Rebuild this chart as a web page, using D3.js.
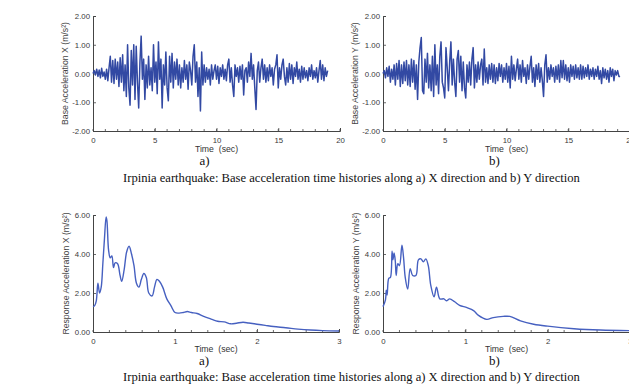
<!DOCTYPE html>
<html><head><meta charset="utf-8">
<script src="https://cdn.jsdelivr.net/npm/d3@7"></script>
<style>
body{margin:0;background:#fff;}
svg{display:block;font-family:Arial, "Liberation Sans", sans-serif;}
</style></head>
<body><svg id="c" width="629" height="387"></svg>
<script>
// ---- data ----
const dtAcc = 0.1;
const accX = [
0.0,0.1,-0.05,0.15,-0.1,0.12,-0.15,0.18,-0.1,0.05,
-0.2,0.15,-0.25,0.2,0.6,-0.3,0.45,-0.35,0.5,-0.2,
0.4,-0.45,0.55,-0.3,0.65,-0.6,0.3,-0.8,1.0,-0.5,
-1.1,0.8,-0.4,1.0,-0.9,0.95,-0.3,-1.2,0.4,1.3,
-0.2,0.5,-0.9,0.3,-0.5,0.6,-0.4,0.2,-0.6,1.0,
-0.3,0.4,-0.7,1.1,-0.2,0.5,-1.2,0.3,-0.4,0.75,
-0.5,-0.95,0.6,-0.3,0.7,-0.5,0.4,-0.2,0.5,-0.4,
0.3,-0.5,0.2,-0.3,0.45,-0.2,0.3,-0.55,0.4,0.1,
-0.4,0.6,1.0,-0.3,0.4,-0.8,0.2,-1.3,0.75,-0.4,
0.3,-0.3,0.2,-0.2,0.15,-0.4,0.3,-0.2,0.1,0.3,
-0.2,0.25,-0.35,0.2,-0.1,0.3,-0.2,0.15,-0.25,0.3,
0.5,-0.3,0.2,-0.4,-0.8,0.3,-0.1,0.2,-0.3,0.25,
-0.2,0.3,-0.75,0.1,0.2,-0.3,0.4,-0.1,0.7,-0.2,
0.3,-0.5,-1.25,0.1,0.4,-0.3,0.2,0.5,-0.2,0.3,
-0.3,0.2,-0.25,0.3,-0.1,0.2,-0.4,0.15,0.3,0.65,
-0.5,0.2,-0.2,0.3,0.5,-0.1,-0.4,0.2,-0.3,0.35,
-0.2,0.3,-0.35,0.2,-0.1,0.4,-0.2,0.15,-0.3,0.25,
-0.2,0.2,-0.15,0.1,-0.25,0.2,-0.1,0.3,-0.2,0.1,
-0.15,0.2,-0.3,0.1,0.45,-0.2,0.3,-0.25,0.2,-0.1,
0.1];
const accY = [
0.0,0.1,-0.15,0.2,-0.1,0.25,-0.3,0.15,-0.2,0.3,
-0.4,0.35,-0.2,0.45,-0.45,0.3,-0.35,0.4,-0.25,0.45,
-0.4,0.3,-0.45,0.5,-0.3,0.45,-0.55,0.3,-0.9,0.4,
0.9,1.25,-0.6,-0.7,0.5,-0.3,0.7,-0.5,0.3,-0.6,
0.6,-0.8,1.0,-0.4,0.3,-0.7,0.6,1.1,-0.3,-0.5,
-0.85,0.9,0.2,-0.6,0.4,1.1,-0.4,0.5,-0.3,-0.8,
0.5,0.8,-0.3,0.6,-0.6,0.4,-0.5,-0.85,0.3,-0.3,
0.4,-0.4,0.5,0.9,-0.5,0.3,-0.3,0.4,-0.2,0.3,
0.5,-0.4,0.85,-0.3,0.2,-0.35,0.3,-0.2,0.35,-0.3,
0.3,-0.35,0.2,-0.25,0.35,-0.1,0.3,-0.3,0.2,-0.2,
0.35,-0.3,0.25,-0.5,0.6,-0.2,0.3,-0.25,0.15,0.5,
-0.2,0.3,-0.3,0.45,-0.1,0.2,-0.35,0.3,-0.2,0.25,
0.6,-0.3,0.2,-0.45,0.3,-0.2,0.35,-0.3,0.2,-0.25,
-0.8,0.3,0.65,-0.3,0.2,-0.2,0.3,-0.1,0.2,-0.3,
0.25,-0.2,0.3,-0.3,0.45,-0.15,0.45,-0.2,0.3,-0.25,
0.2,-0.3,0.3,-0.1,0.25,-0.2,0.3,-0.15,0.2,-0.2,
0.3,-0.2,0.25,-0.15,0.2,-0.1,0.3,-0.2,0.15,-0.1,
0.2,-0.2,0.15,-0.1,0.25,-0.2,0.1,-0.35,0.2,-0.15,
0.15,-0.2,0.1,-0.3,0.2,-0.1,0.15,-0.25,0.1,-0.05,
0.1,-0.1,-0.1];
const specXT = [0,0.02,0.04,0.06,0.08,0.1,0.12,0.14,0.16,0.17,0.19,0.21,0.23,0.25,0.27,0.3,0.33,0.35,0.38,0.41,0.44,0.47,0.5,0.53,0.56,0.59,0.62,0.65,0.68,0.72,0.75,0.78,0.81,0.85,0.9,0.95,1.0,1.05,1.1,1.15,1.2,1.27,1.35,1.45,1.52,1.6,1.68,1.75,1.83,1.9,2.0,2.1,2.2,2.35,2.5,2.65,2.8,3.0];
const specXV = [1.3,1.35,1.6,2.5,2.0,2.3,3.5,4.8,5.9,5.7,4.2,3.8,3.9,3.3,3.55,3.5,2.9,2.6,3.2,4.1,4.4,4.0,3.4,2.5,2.3,2.7,3.0,2.8,2.0,1.85,2.3,2.7,2.6,2.3,1.7,1.35,1.0,0.97,1.0,1.05,1.0,0.95,0.8,0.65,0.55,0.52,0.42,0.45,0.5,0.46,0.4,0.34,0.28,0.22,0.15,0.1,0.07,0.05];
const specYT = [0,0.03,0.04,0.05,0.07,0.09,0.11,0.12,0.135,0.15,0.16,0.18,0.2,0.23,0.25,0.27,0.3,0.33,0.36,0.4,0.43,0.46,0.49,0.52,0.55,0.58,0.62,0.65,0.69,0.74,0.77,0.81,0.87,0.93,1.02,1.1,1.16,1.26,1.34,1.46,1.54,1.67,1.83,2.0,2.32,2.64,3.0];
const specYV = [1.3,1.65,2.15,1.9,2.75,2.8,4.15,3.7,4.05,3.6,2.9,3.5,3.4,4.45,3.8,2.8,2.2,3.25,2.9,2.9,3.7,3.75,3.6,3.75,3.4,2.4,1.8,2.3,1.7,1.7,1.6,1.7,1.55,1.37,1.25,1.1,0.85,0.65,0.74,0.8,0.8,0.57,0.4,0.3,0.17,0.1,0.07];
const accTicks = [-2,-1,0,1,2];
const accTimeTicks = [0,5,10,15,20];
const specTicks = [0,2,4,6];
const specTimeTicks = [0,1,2,3];
const caption = "Irpinia earthquake: Base acceleration time histories along a) X direction and b) Y direction";

// ---- drawing ----
const svg = d3.select("#c");
const fmt = v => v.toFixed(2);

function panel(o){
  const g = svg.append("g");
  const x = d3.scaleLinear().domain(o.xd).range([o.x0, o.x1]);
  const y = d3.scaleLinear().domain(o.yd).range([o.y1, o.y0]);
  const minor = d3.range(o.xd[0], o.xd[1] + 1e-9, o.minorStep);
  g.selectAll(".mx").data(minor).join("line")
    .attr("x1", d=>x(d)).attr("x2", d=>x(d))
    .attr("y1", o.y1).attr("y2", o.y1-2)
    .attr("stroke", "#444").attr("stroke-width", 0.8);
  const xa = d3.axisBottom(x).tickValues(o.xTicks).tickSize(-3).tickPadding(6).tickFormat(d3.format("d"));
  const ga = g.append("g").attr("transform", `translate(0,${o.y1})`).call(xa);
  const ya = d3.axisLeft(y).tickValues(o.yTicks).tickSize(-3).tickPadding(3).tickFormat(fmt);
  const gy = g.append("g").attr("transform", `translate(${o.x0},0)`).call(ya);
  [ga, gy].forEach(a=>{
    a.select(".domain").attr("stroke", "#444").attr("stroke-width", 1);
    a.selectAll(".tick line").attr("stroke", "#444").attr("stroke-width", 0.8);
    a.selectAll(".tick text").attr("fill", "#3a3a3a").attr("font-size", 7.8).attr("font-family", "Arial, 'Liberation Sans', sans-serif");
  });
  gy.selectAll(".tick text").attr("dy", "0.32em");
  const line = d3.line().x(d=>x(d[0])).y(d=>y(d[1])).curve(o.curve);
  g.append("path").datum(o.data).attr("d", line)
    .attr("fill", "none").attr("stroke", o.color).attr("stroke-width", o.sw).attr("stroke-linejoin", "round");
  g.append("text").attr("transform", `translate(${o.ylx},${(o.y0+o.y1)/2}) rotate(-90)`)
    .attr("text-anchor", "middle").attr("font-size", 8.7).attr("fill", "#444").text(o.ylabel);
  g.append("text").attr("x", (o.x0+o.x1)/2).attr("y", o.xly).attr("text-anchor", "middle")
    .attr("font-size", 8.7).attr("fill", "#333").attr("xml:space","preserve").text("Time  (sec)");
  g.append("text").attr("x", (o.x0+o.x1)/2 - 12).attr("y", o.xly + 13).attr("text-anchor", "middle")
    .attr("font-size", 13).attr("font-family", "'Liberation Serif', 'Times New Roman', serif").attr("fill", "#111").text(o.tag);
}

const accXData = accX.map((v,i)=>[i*dtAcc, v]);
const accYData = accY.map((v,i)=>[i*dtAcc, v]);
const specXData = specXT.map((t,i)=>[t, specXV[i]]);
const specYData = specYT.map((t,i)=>[t, specYV[i]]);

const topCfg = {xd:[0,20], yd:[-2,2], y0:16, y1:131, xTicks:accTimeTicks, yTicks:accTicks, minorStep:1, curve:d3.curveLinear, color:"#3249a3", sw:1.5, xly:152};
panel(Object.assign({}, topCfg, {x0:93, x1:340, data:accXData, ylabel:"Base Acceleration X (m/s²)", ylx:68, tag:"a)"}));
panel(Object.assign({}, topCfg, {x0:383, x1:630, data:accYData, ylabel:"Base Acceleration Y (m/s²)", ylx:358, tag:"b)"}));
const botCfg = {xd:[0,3], yd:[0,6], y0:215, y1:332, xTicks:specTimeTicks, yTicks:specTicks, minorStep:0.2, curve:d3.curveCatmullRom, color:"#4660c0", sw:1.4, xly:352};
panel(Object.assign({}, botCfg, {x0:93, x1:339, data:specXData, ylabel:"Response Acceleration  X (m/s²)", ylx:69, tag:"a)"}));
panel(Object.assign({}, botCfg, {x0:383, x1:630, data:specYData, ylabel:"Response Acceleration  Y (m/s²)", ylx:359, tag:"b)"}));

[182, 381].forEach(yy=>{
  svg.append("text").attr("x", 123).attr("y", yy).attr("font-size", 12.6)
    .attr("font-family", "'Liberation Serif', 'Times New Roman', serif").attr("fill", "#111").text(caption);
});
</script></body></html>
